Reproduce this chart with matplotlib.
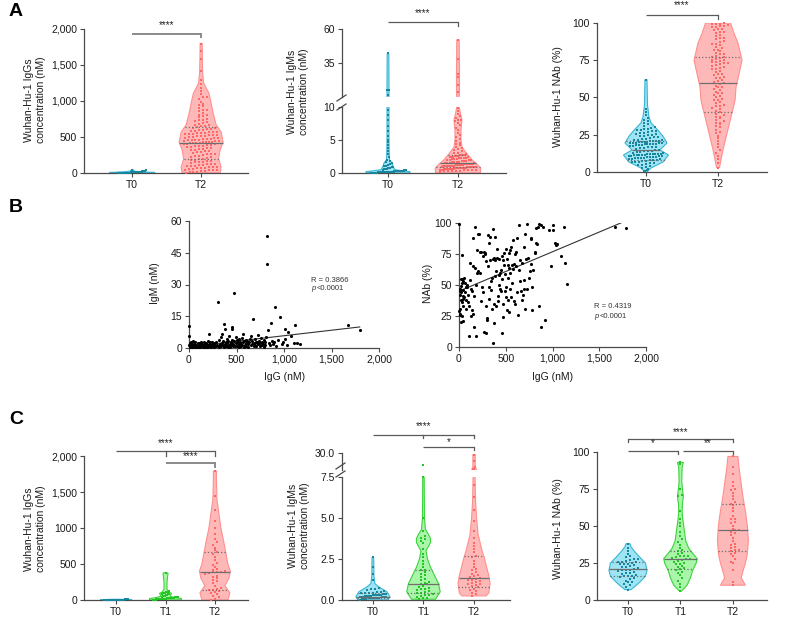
import numpy as np
import matplotlib
matplotlib.use("Agg")
import matplotlib.pyplot as plt

plt.rcParams["font.family"] = ["Liberation Sans", "DejaVu Sans"]

# ------------------------------------------------------------------ DATA
groups2 = ["T0", "T2"]
groups3 = ["T0", "T1", "T2"]

# Panel A : IgG (nM)
a_igg_t0 = [0, 0, 1, 1, 2, 2, 3, 3, 4, 4, 5, 5, 6, 6, 7, 8, 8, 9, 10, 10, 11, 12, 13, 14, 15,
            16, 18, 19, 20, 22, 24, 27, 30, 34, 38, 45, 2, 5, 7, 3]
a_igg_t2 = [3, 9, 14, 22, 27, 35, 41, 48, 53, 61, 66, 72, 77, 83, 88, 95, 101, 109, 116, 124,
            131, 139, 147, 156, 164, 173, 182, 190, 199, 207, 216, 226, 235, 247, 258, 266, 277,
            289, 298, 307, 318, 326, 335, 344, 352, 360, 367, 374, 381, 388, 394, 399, 405, 411,
            416, 421, 426, 431, 436, 442, 447, 452, 458, 463, 469, 475, 481, 487, 494, 500, 507,
            514, 521, 528, 535, 541, 548, 555, 561, 568, 575, 582, 590, 598, 607, 616, 626, 637,
            648, 660, 673, 687, 702, 718, 735, 752, 771, 790, 811, 833, 856, 880, 905, 932, 960,
            991, 1024, 1060, 1098, 1140, 1185, 1232, 1290, 1420, 1580, 1700, 1790,
            12, 44, 70, 98, 120, 152, 178, 230, 262, 300, 340, 372, 403, 418, 428, 440, 455,
            470, 490, 510, 530, 552, 572, 595, 620, 650, 690, 740, 800, 870, 950, 1050]
# Panel A : IgM (nM)
a_igm_t0 = [0.01, 0.02, 0.03, 0.04, 0.05, 0.05, 0.06, 0.07, 0.08, 0.09, 0.1, 0.1, 0.11, 0.12,
            0.12, 0.13, 0.14, 0.15, 0.15, 0.16, 0.17, 0.18, 0.18, 0.19, 0.2, 0.2, 0.21, 0.22,
            0.23, 0.24, 0.25, 0.26, 0.27, 0.28, 0.29, 0.3, 0.31, 0.32, 0.33, 0.35, 0.36, 0.38,
            0.4, 0.02, 0.04, 0.06, 0.08, 0.11, 0.14, 0.17, 0.22, 0.26, 0.3, 0.34, 0.05, 0.09,
            0.13, 0.19, 0.24, 0.45, 0.5, 0.55, 0.6, 0.65, 0.7, 0.75, 0.8, 0.85, 0.9, 1.0, 1.1,
            1.2, 1.3, 1.45, 1.6, 1.75, 2.0, 2.4, 2.9, 3.3, 3.8, 4.3, 4.7, 5.0, 5.6, 6.3, 7.1,
            8.0, 8.8, 9.6, 11.5, 14.8, 15.5, 42.0]
a_igm_t2 = [0.2, 0.25, 0.3, 0.33, 0.36, 0.4, 0.42, 0.45, 0.48, 0.5, 0.52, 0.55, 0.57, 0.6, 0.62,
            0.64, 0.66, 0.68, 0.7, 0.72, 0.74, 0.76, 0.78, 0.8, 0.35, 0.5, 0.6, 0.7, 0.75, 0.65,
            0.82, 0.84, 0.86, 0.88, 0.9, 0.92, 0.94, 0.96, 0.98, 1.0, 1.02, 1.05, 1.08, 1.1,
            1.12, 1.15, 1.18, 1.2, 1.23, 1.26, 1.29, 1.32, 1.35, 1.38, 1.41, 1.44, 1.47, 1.5,
            0.9, 1.0, 1.1, 1.2, 1.3, 1.55, 1.6, 1.65, 1.7, 1.75, 1.8, 1.85, 1.9, 1.95, 2.0, 2.05,
            2.1, 2.2, 2.25, 2.3, 2.4, 2.45, 2.5, 2.55, 2.6, 2.65, 2.7, 2.75, 2.8, 1.7, 1.9, 2.1,
            2.3, 2.5, 2.7, 2.9, 3.0, 3.1, 3.3, 3.5, 3.6, 3.8, 4.0, 4.2, 4.4, 4.6, 4.9, 5.2, 5.5,
            5.8, 6.1, 6.5, 6.8, 7.2, 7.6, 7.9, 8.1, 8.3, 8.6, 9.0, 9.4, 9.8, 8.0,
            13.5, 19.0, 24.5, 27.0, 38.0, 52.0]
# Panel A : NAb (%)
a_nab_t0 = [0.5, 1, 1.5, 2, 3, 3.5, 4, 4.5, 5, 5.5, 6, 6.2, 6.5, 6.8, 7, 7.3, 7.6, 7.8, 8, 8.2,
            8.5, 8.8, 9, 9.2, 9.5, 9.7, 10, 10.2, 10.4, 10.6, 10.8, 11, 11.2, 11.4, 11.6, 11.8,
            12, 12.2, 12.4, 12.6, 12.9, 13.2, 13.5, 13.8, 14.1, 14.4, 14.7, 15, 15.4, 15.8, 16.2,
            16.6, 17, 17.3, 17.6, 17.9, 18.2, 18.5, 18.8, 19, 19.2, 19.4, 19.6, 19.8, 20, 20.2,
            20.5, 20.8, 21, 21.3, 21.6, 22, 22.4, 22.8, 23.2, 23.6, 24, 24.5, 25, 25.5, 26, 26.5,
            27, 27.5, 28, 28.5, 29, 29.5, 30, 31, 32, 33, 34, 35, 36, 38, 40, 42, 62, 9.3, 10.1,
            11.1, 12.1, 18.3, 19.1, 19.7, 20.3, 27.2, 28.8, 10.5, 11.3, 12.3, 17.1, 18.6, 19.3,
            20.6, 21.8, 23.9, 25.8]
a_nab_t2 = [3, 6, 9, 11, 13, 15, 17, 19, 21, 23, 24, 26, 27, 28, 30, 31, 32, 33, 34, 35, 36, 37,
            38, 39, 40, 41, 42, 43, 44, 45, 46, 47, 48, 49, 50, 51, 52, 53, 54, 55, 56, 57, 58,
            59, 60, 60.5, 61, 62, 63, 64, 65, 66, 67, 68, 69, 70, 70.5, 71, 72, 72.5, 73, 73.5,
            74, 74.5, 75, 75.5, 76, 76.5, 77, 77.5, 78, 79, 80, 81, 82, 83, 84, 85, 86, 87, 88,
            89, 90, 91, 92, 93, 94, 95, 96, 97, 97.5, 98, 98.5, 99, 99.5, 100, 99, 98, 96, 94,
            90, 86, 82, 79, 73, 69, 66, 63, 57, 53, 48, 44, 37, 33]

# violin outlines: value levels and half-widths (px)
a_igg_t0_sy = [0, 8, 16, 25, 35, 45]
a_igg_t0_sw = [23, 22, 9, 2.5, 1.2, 0.8]
a_igg_t2_sy = [0, 80, 200, 320, 430, 570, 670, 830, 970, 1110, 1180, 1250, 1400, 1600, 1800]
a_igg_t2_sw = [19, 20, 17.5, 19, 22, 20, 15, 12, 10, 7.7, 5, 2.5, 1.5, 1.2, 1]
a_igm_t0_sy = [0, 0.2, 0.35, 0.5, 0.75, 1.0, 1.5, 2.0, 3, 5, 10, 15, 20, 42]
a_igm_t0_sw = [22, 22, 14, 7, 6, 5, 4, 1.5, 1.2, 1, 1, 1, 1, 0.8]
a_igm_t2_sy = [0, 0.15, 0.76, 1.2, 2.0, 3.2, 3.9, 5, 6.5, 8, 9, 10, 13, 20, 30, 52]
a_igm_t2_sw = [22, 22.5, 22.7, 20, 14, 7.5, 4, 3, 3, 4, 2.5, 1.2, 1.5, 1.5, 1.5, 1.2]
a_nab_t0_sy = [0, 0.7, 2.7, 6.7, 11.4, 14.8, 19.5, 24, 28, 33, 37, 45, 62]
a_nab_t0_sw = [1, 2, 5, 17, 22.5, 14, 21, 17, 12, 5, 3, 1.5, 1]
a_nab_t2_sy = [3, 15, 26, 37, 48, 57, 66, 75, 86.5, 93, 100]
a_nab_t2_sw = [1.5, 5, 9, 13, 17, 18, 21, 24, 20, 16, 12.5]

# median, lower quartile, upper quartile
a_igg_stats = {"T2": (420, 195, 645)}
a_igm_stats = {"T2": (1.5, 0.85, 2.8)}
a_nab_stats = {"T0": (14.8, 8, 21), "T2": (60, 40, 77)}

# Panel B : IgG vs IgM
b1_igg = [0, 0, 5, 8, 10, 12, 15, 18, 20, 25, 28, 30, 35, 38, 40, 45, 50, 55, 60, 65, 70, 75, 80,
          90, 95, 105, 110, 115, 120, 125, 130, 135, 140, 145, 150, 155, 160, 165, 170, 175, 180,
          185, 190, 195, 200, 210, 215, 220, 225, 230, 235, 240, 245, 250, 260, 265, 270, 280,
          285, 295, 305, 310, 315, 320, 325, 330, 335, 340, 345, 350, 355, 360, 365, 372, 375,
          379, 385, 390, 395, 400, 405, 410, 415, 420, 425, 430, 435, 440, 445, 449, 449, 452,
          455, 460, 465, 470, 475, 480, 490, 495, 505, 510, 515, 520, 525, 530, 535, 540, 545,
          550, 555, 560, 568, 570, 575, 580, 590, 595, 600, 605, 610, 620, 625, 630, 640, 650,
          655, 660, 665, 674, 680, 685, 690, 695, 700, 705, 715, 726, 730, 740, 745, 750, 760,
          765, 770, 780, 785, 790, 800, 805, 815, 821, 821, 832, 840, 850, 863, 870, 880, 890,
          909, 920, 940, 961, 975, 990, 1011, 1011, 1030, 1039, 1077, 1105, 1119, 1140, 1168,
          1670, 1797]
b1_igm = [10.5, 5.5, 1.5, 0.5, 2.2, 0.8, 1.2, 0.3, 2.8, 1.0, 0.6, 1.8, 0.4, 3.2, 1.4, 0.9, 2.0,
          0.5, 1.1, 2.6, 0.7, 1.6, 0.3, 2.2, 1.0, 0.6, 2.4, 1.2, 0.4, 3.0, 1.6, 0.8, 2.0, 0.3,
          1.4, 2.7, 0.9, 1.8, 0.5, 2.3, 1.1, 0.7, 1.5, 3.4, 0.6, 6.5, 1.9, 1.0, 2.6, 0.4, 1.3,
          3.0, 0.8, 1.7, 2.2, 0.5, 1.2, 2.9, 0.9, 1.6, 21.5, 1.1, 3.6, 0.6, 2.0, 1.4, 5.2, 0.8,
          2.5, 6.5, 1.2, 3.1, 0.5, 11.2, 1.8, 8.8, 2.7, 0.9, 4.2, 1.5, 2.2, 0.7, 3.4, 1.1, 5.8,
          2.0, 0.6, 3.0, 1.3, 10.0, 8.8, 4.0, 2.4, 0.8, 1.7, 26.2, 3.3, 1.0, 2.2, 5.1, 0.8, 3.8,
          1.4, 2.6, 0.5, 4.3, 1.9, 3.0, 0.9, 2.1, 4.6, 1.3, 6.8, 2.8, 0.7, 3.5, 1.6, 4.0, 2.3,
          1.0, 3.2, 1.8, 0.6, 2.6, 4.1, 1.2, 5.5, 2.0, 3.3, 13.6, 0.9, 2.4, 4.4, 1.5, 3.0, 1.1,
          2.8, 6.0, 1.7, 3.5, 0.8, 2.2, 4.8, 1.4, 3.0, 2.0, 0.7, 3.8, 1.5, 2.9, 5.2, 53.0, 39.5,
          8.4, 2.4, 1.2, 12.0, 3.2, 1.8, 2.6, 19.3, 1.0, 3.6, 14.7, 2.0, 2.8, 9.2, 4.4, 1.2,
          7.6, 5.5, 2.4, 11.0, 2.5, 2.0, 11.0, 8.4]
b1_fit = (0.6, 0.0052)          # intercept, slope
b1_text = ("R = 0.3866", "<0.0001")

# Panel B : IgG vs NAb
b2_igg = [5, 8, 10, 12, 15, 18, 20, 22, 25, 28, 30, 32, 35, 38, 40, 42, 45, 48, 50, 3, 6, 14, 26,
          44, 36, 55, 60, 68, 75, 80, 90, 98, 105, 110, 115, 120, 125, 130, 140, 150, 155, 160,
          165, 170, 175, 180, 185, 190, 195, 145, 100, 85, 135, 198, 70, 205, 215, 220, 225,
          230, 240, 248, 255, 260, 265, 270, 275, 280, 285, 288, 290, 295, 300, 305, 310, 318,
          322, 325, 330, 335, 340, 345, 350, 355, 360, 362, 365, 370, 372, 375, 380, 385, 390,
          395, 398, 405, 410, 415, 420, 425, 430, 435, 440, 445, 450, 455, 460, 465, 470, 475,
          480, 485, 490, 495, 500, 505, 510, 515, 520, 525, 530, 535, 540, 545, 550, 555, 560,
          565, 570, 575, 580, 585, 590, 595, 598, 470, 520, 545, 500, 430, 605, 610, 620, 625,
          630, 640, 645, 650, 655, 660, 670, 675, 680, 690, 700, 705, 710, 720, 725, 730, 740,
          745, 760, 765, 770, 775, 780, 785, 795, 690, 810, 815, 820, 825, 835, 845, 855, 860,
          875, 880, 900, 915, 960, 980, 1000, 1010, 1030, 1040, 1050, 1090, 1120, 1130, 1160,
          1670, 1790]
b2_nab = [99, 47, 42, 27, 31, 55, 20, 38, 44, 52, 25, 36, 74, 41, 21, 46, 53, 33, 40, 29, 26, 45,
          49, 39, 55, 56, 52, 44, 31, 38, 50, 36, 33, 9, 68, 54, 25, 47, 45, 88, 65, 41, 16, 97,
          64, 9, 50, 78, 60, 27, 42, 48, 30, 61, 48, 91, 91, 77, 60, 37, 77, 48, 73, 44, 77, 12,
          75, 76, 33, 11, 69, 23, 22, 65, 90, 39, 84, 48, 89, 70, 46, 53, 56, 31, 71, 3, 95, 19,
          72, 35, 89, 57, 70, 33, 61, 79, 72, 41, 37, 58, 71, 60, 47, 45, 62, 73, 11, 55, 24,
          35, 66, 76, 59, 45, 48, 79, 71, 30, 56, 38, 76, 64, 28, 60, 78, 81, 40, 52, 66, 86,
          63, 37, 67, 35, 75, 70, 66, 47, 40, 50, 65, 77, 44, 88, 26, 98, 62, 70, 53, 45, 68,
          38, 42, 47, 81, 31, 91, 71, 99, 47, 72, 56, 61, 67, 88, 87, 48, 30, 62, 54, 76, 77,
          84, 96, 83, 97, 99, 33, 16, 98, 97, 22, 94, 65, 98, 94, 84, 82, 83, 73, 97, 68, 51,
          97, 96]
b2_fit = (45.0, 0.0318)
b2_text = ("R = 0.4319", "<0.0001")

# Panel C : IgG (nM)
c_igg_t0 = [0, 0, 1, 1, 1, 2, 2, 2, 3, 3, 3, 4, 4, 4, 5, 5, 5, 6, 6, 7, 7, 8, 8, 9, 10, 1, 2, 3,
            4, 5, 6, 2, 3, 1, 0, 4, 7, 2, 3, 5]
c_igg_t1 = [2, 4, 5, 7, 8, 10, 11, 12, 14, 15, 17, 18, 20, 21, 23, 25, 26, 28, 30, 32, 34, 36, 38,
            40, 43, 46, 50, 55, 60, 66, 72, 80, 85, 90, 95, 100, 105, 115, 130, 380, 6, 13, 19,
            27, 35]
c_igg_t2 = [5, 20, 40, 60, 80, 100, 115, 125, 135, 140, 150, 170, 200, 240, 280, 300, 320, 340,
            360, 375, 385, 390, 395, 400, 410, 430, 460, 490, 520, 560, 600, 640, 660, 690, 720,
            760, 800, 850, 920, 1000, 1100, 1250, 1450, 1790, 260]
# Panel C : IgM (nM)
c_igm_t0 = [0.02, 0.05, 0.07, 0.1, 0.1, 0.12, 0.13, 0.15, 0.15, 0.17, 0.18, 0.2, 0.2, 0.21, 0.22,
            0.23, 0.25, 0.25, 0.27, 0.28, 0.3, 0.3, 0.32, 0.33, 0.35, 0.36, 0.38, 0.4, 0.4, 0.42,
            0.45, 0.47, 0.5, 0.55, 0.6, 0.65, 0.7, 0.75, 1.2, 1.6, 2.0, 2.6, 0.08, 0.18, 0.28]
c_igm_t1 = [0.05, 0.1, 0.15, 0.2, 0.25, 0.3, 0.33, 0.38, 0.42, 0.45, 0.5, 0.55, 0.6, 0.65, 0.7,
            0.75, 0.8, 0.88, 0.95, 1.0, 1.05, 1.1, 1.2, 1.3, 1.4, 1.5, 1.6, 1.7, 1.8, 1.85, 2.0,
            2.2, 2.4, 2.6, 2.8, 3.1, 3.5, 3.6, 3.7, 3.8, 3.9, 4.2, 5.0, 7.5, 14.0]
c_igm_t2 = [0.25, 0.35, 0.45, 0.55, 0.62, 0.7, 0.78, 0.85, 0.9, 0.95, 1.0, 1.05, 1.1, 1.15, 1.2,
            1.25, 1.3, 1.35, 1.4, 1.45, 1.5, 1.6, 1.7, 1.8, 1.9, 2.0, 2.2, 2.4, 2.6, 2.7, 2.9,
            3.1, 3.3, 3.5, 3.8, 4.2, 4.8, 5.5, 6.3, 7.0, 9.0, 9.2, 12, 20, 28]
# Panel C : NAb (%)
c_nab_t0 = [7, 9, 10, 11, 12, 12.5, 13, 14, 15, 15.5, 16, 16.5, 17, 17.5, 18, 18.5, 19, 19.5, 20,
            20.5, 21, 21.5, 22, 22.5, 23, 23.5, 24, 24.5, 25, 25.5, 26, 26.5, 27, 27.5, 28, 29,
            30, 31, 33, 35, 38, 16, 20, 24, 26]
c_nab_t1 = [6, 9, 11, 13, 15, 17, 18, 19, 20, 21, 21.5, 22, 23, 24, 25, 26, 26.5, 27, 27.5, 28,
            28.5, 29, 29.5, 30, 31, 32, 33, 34, 35, 37, 39, 41, 43, 46, 50, 52, 55, 60, 70, 71,
            75, 92, 93, 24, 30]
c_nab_t2 = [10, 12, 20, 25, 26, 28, 30, 31, 32, 33, 33.5, 34, 36, 37, 38, 40, 42, 44, 45, 46, 47,
            47.5, 48, 50, 52, 53, 55, 57, 60, 62, 64, 65, 66, 68, 70, 72, 74, 77, 80, 85, 90, 97,
            35, 55, 75]

c_igg_t0_sy = [0, 5, 10];                 c_igg_t0_sw = [16, 15, 3]
c_igg_t1_sy = [0, 20, 35, 50, 70, 90, 100, 115, 150, 250, 370, 380]
c_igg_t1_sw = [16, 16, 9, 5, 5, 6, 5, 3, 1.5, 1.5, 2.5, 1]
c_igg_t2_sy = [0, 100, 200, 300, 400, 500, 650, 800, 1000, 1200, 1400, 1700, 1790]
c_igg_t2_sw = [13, 15, 10, 14, 15.5, 13, 11, 9, 6, 4, 2, 1.5, 1.5]
c_igm_t0_sy = [0, 0.2, 0.5, 0.8, 1.0, 1.5, 2.0, 2.6]
c_igm_t0_sw = [15, 17, 14, 6, 2, 1, 1, 0.8]
c_igm_t1_sy = [0.05, 0.5, 1.0, 1.5, 2.0, 2.5, 3.0, 3.5, 3.75, 4.0, 4.3, 5, 7.5]
c_igm_t1_sw = [12, 16.7, 15, 11, 7, 4, 2.5, 7, 7, 5, 2, 1, 0.7]
c_igm_t2_sy = [0.25, 0.43, 1.0, 1.5, 2.0, 2.5, 3.0, 3.5, 4.0, 5.0, 6.0, 7.5, 9, 9.2, 12, 20, 28]
c_igm_t2_sw = [12, 14.7, 16, 14.7, 12.5, 10.5, 8, 6, 4, 2.5, 1.5, 1, 2.5, 2, 1.2, 1.2, 1.2]
c_nab_t0_sy = [7, 9, 12, 16, 20, 25, 29, 32.7, 36, 38]
c_nab_t0_sw = [3, 6.7, 11.7, 17.5, 19, 17.5, 11.7, 6.7, 3, 2]
c_nab_t1_sy = [6, 10, 15, 20, 25, 28, 32, 35, 40, 45, 50, 55, 60, 65, 70, 75, 80, 90, 93]
c_nab_t1_sw = [1, 6.7, 10, 12.3, 15.8, 16.7, 11.7, 8.3, 5.3, 4.3, 3.3, 2.3, 1.7, 2, 3, 2, 1.3, 1.7, 3]
c_nab_t2_sy = [10, 15, 20, 25, 30, 40, 50, 60, 70, 80, 90, 97]
c_nab_t2_sw = [12.5, 8.3, 10.3, 12.5, 14.2, 15.5, 14.5, 12.5, 10, 8, 6, 5]

c_igg_stats = {"T2": (390, 140, 660)}
c_igm_stats = {"T0": (0.2, 0.1, 0.4), "T1": (0.97, 0.45, 1.8), "T2": (1.36, 0.82, 2.68)}
c_nab_stats = {"T0": (20.7, 16, 26), "T1": (27.7, 21, 33), "T2": (47, 33, 65)}

# ------------------------------------------------------------------ STYLE
COL = {
    "T0": dict(fill="#9fe4f3", edge="#38b4d4", pt="#17869f"),
    "T1": dict(fill="#a9f5a9", edge="#3bd43b", pt="#25c425"),
    "T2": dict(fill="#ffb8b8", edge="#ff8f8f", pt="#ff6666"),
}
AX_COL = "#4a4a4a"
STAT_COL = "#6e6e6e"
ROW_PX = 3.2      # vertical bin height of dot rows
STEP_PX = 4.0     # largest horizontal gap between dots
DOT_S = 2.8

W, H = 787, 620
fig = plt.figure(figsize=(W / 100, H / 100), dpi=100)


def make_ax(l, t, r, b):
    ax = fig.add_axes([l / W, 1 - b / H, (r - l) / W, (b - t) / H])
    ax.patch.set_alpha(0)
    for s in ("top", "right"):
        ax.spines[s].set_visible(False)
    for s in ("left", "bottom"):
        ax.spines[s].set_color(AX_COL)
        ax.spines[s].set_linewidth(0.9)
    ax.tick_params(direction="out", length=3, width=0.8, color=AX_COL,
                   labelsize=7.5, labelcolor="#1a1a1a", pad=2)
    return ax


def ftext(x, y, s, **kw):
    fig.text(x / W, 1 - y / H, s, **kw)


def fline(pts, **kw):
    xs = [p[0] / W for p in pts]
    ys = [1 - p[1] / H for p in pts]
    fig.add_artist(plt.Line2D(xs, ys, transform=fig.transFigure, **kw))


def draw_group(ax, xc, vals, sy, sw, col, xpx, ypx, ylo, yhi, stats=None):
    sy = np.asarray(sy, float)
    hw = np.asarray(sw, float) / xpx
    xs = np.concatenate([xc - hw, (xc + hw)[::-1]])
    ys = np.concatenate([sy, sy[::-1]])
    ax.fill(xs, ys, facecolor=col["fill"], edgecolor=col["edge"], lw=0.8, zorder=2)
    v = np.asarray(vals, float)
    v = v[(v >= ylo) & (v <= yhi * 1.0001)]
    if len(v):
        rowh = ROW_PX / ypx
        rows = np.floor((v - ylo) / rowh).astype(int)
        px, py = [], []
        for k, r in enumerate(np.unique(rows)):
            vv = np.sort(v[rows == r])
            n = len(vv)
            w = max(np.interp(vv.mean(), sy, hw) * 0.8, 0.3 / xpx)
            step = min(STEP_PX / xpx, 2 * w / max(n - 1, 1))
            off = (np.arange(n) - (n - 1) / 2) * step
            if n % 2 == 1 and n > 1 and k % 2 == 1:
                off = off + step / 2 * (1 if off[-1] + step / 2 <= w else 0)
            px.extend(xc + off)
            py.extend(vv)
        ax.scatter(px, py, s=DOT_S, marker="s", color=col["pt"], linewidths=0,
                   zorder=3, clip_on=False)
    if stats is not None:
        for val, ls in zip(stats, ("-", ":", ":")):
            if ylo <= val <= yhi:
                w = np.interp(val, sy, hw)
                ax.plot([xc - w, xc + w], [val, val], color=STAT_COL, lw=0.9, ls=ls,
                        zorder=4, solid_capstyle="butt")


def bracket(ax, x0, x1, yf, ticks, tick_to, text, tyf, color="#5a5a5a", lw=0.9, fs=7):
    tr = ax.get_xaxis_transform()
    ax.plot([x0, x1], [yf, yf], transform=tr, color=color, lw=lw, clip_on=False,
            solid_capstyle="butt")
    for xt in ticks:
        ax.plot([xt, xt], [yf, tick_to], transform=tr, color=color, lw=lw, clip_on=False)
    ax.text((x0 + x1) / 2, tyf, text, transform=tr, ha="center", va="center",
            fontsize=fs, color="#222222")


def cat_axis(ax, labels, xlim):
    ax.set_xlim(*xlim)
    ax.set_xticks(range(len(labels)))
    ax.set_xticklabels(labels, fontsize=7.5)


def ylabel(x, y, s):
    ftext(x, y, s, rotation=90, ha="center", va="center", fontsize=7.5,
          linespacing=1.35, color="#1a1a1a")


# ------------------------------------------------------------------ PANEL A
# A1 IgG
ax = make_ax(84, 29, 248, 173)
ax.set_ylim(0, 2000)
cat_axis(ax, groups2, (-0.70, 1.68))
xpx, ypx = 69.0, 144 / 2000
draw_group(ax, 0, a_igg_t0, a_igg_t0_sy, a_igg_t0_sw, COL["T0"], xpx, ypx, 0, 2000)
draw_group(ax, 1, a_igg_t2, a_igg_t2_sy, a_igg_t2_sw, COL["T2"], xpx, ypx, 0, 2000,
           a_igg_stats["T2"])
ax.set_yticks([0, 500, 1000, 1500, 2000])
ax.set_yticklabels(["0", "500", "1,000", "1,500", "2,000"])
bracket(ax, 0, 1, 0.965, [1], 0.944, "****", 1.03, color="#8a8a8a", lw=1.4)
ylabel(35, 100, "Wuhan-Hu-1 IgGs\nconcentration (nM)")

# A2 IgM (broken axis)
axl = make_ax(342, 107, 506, 173)
axu = make_ax(342, 29, 506, 97)
axl.set_ylim(0, 10)
axu.set_ylim(10, 60)
cat_axis(axl, groups2, (-0.657, 1.686))
axu.set_xlim(-0.657, 1.686)
axu.spines["bottom"].set_visible(False)
axu.set_xticks([])
for a, lo, hi, yp in ((axl, 0, 10, 66 / 10), (axu, 10, 60, 68 / 50)):
    draw_group(a, 0, a_igm_t0, a_igm_t0_sy, a_igm_t0_sw, COL["T0"], 70.0, yp, lo, hi)
    draw_group(a, 1, a_igm_t2, a_igm_t2_sy, a_igm_t2_sw, COL["T2"], 70.0, yp, lo, hi,
               a_igm_stats["T2"])
axl.set_yticks([0, 5, 10])
axu.set_yticks([35, 60])
fline([(337, 101), (346, 95)], color=AX_COL, lw=0.9)
fline([(337, 110), (346, 104)], color=AX_COL, lw=0.9)
bracket(axu, 0, 1, 1.103, [1], 1.044, "****", 1.235)
ylabel(298, 92, "Wuhan-Hu-1 IgMs\nconcentration (nM)")

# A3 NAb
ax = make_ax(597, 23, 767, 172)
ax.set_ylim(0, 100)
cat_axis(ax, groups2, (-0.68, 1.68))
xpx, ypx = 72.0, 149 / 100
draw_group(ax, 0, a_nab_t0, a_nab_t0_sy, a_nab_t0_sw, COL["T0"], xpx, ypx, 0, 100,
           a_nab_stats["T0"])
draw_group(ax, 1, a_nab_t2, a_nab_t2_sy, a_nab_t2_sw, COL["T2"], xpx, ypx, 0, 100,
           a_nab_stats["T2"])
ax.set_yticks([0, 25, 50, 75, 100])
bracket(ax, 0, 1, 1.054, [1], 1.027, "****", 1.121)
ylabel(558, 97, "Wuhan-Hu-1 NAb (%)")

# ------------------------------------------------------------------ PANEL B
xt = [0, 500, 1000, 1500, 2000]
xtl = ["0", "500", "1,000", "1,500", "2,000"]

ax = make_ax(189, 221, 379, 348)
ax.set_xlim(0, 2000)
ax.set_ylim(0, 60)
ax.scatter(b1_igg, b1_igm, s=5, color="black", linewidths=0, zorder=3, clip_on=False)
fx = np.array([0, max(b1_igg)])
ax.plot(fx, b1_fit[0] + b1_fit[1] * fx, color="#333333", lw=0.8, zorder=2)
ax.set_xticks(xt); ax.set_xticklabels(xtl)
ax.set_yticks([0, 15, 30, 45, 60])
ftext(311, 280, b1_text[0], fontsize=5.5, va="center", color="#333333")
ftext(311, 289, "p", fontsize=5.5, va="center", style="italic", color="#333333")
ftext(317, 289, b1_text[1], fontsize=5.5, va="center", color="#333333")
ylabel(155, 283, "IgM (nM)")
ftext(285, 377, "IgG (nM)", ha="center", va="center", fontsize=7.5, color="#1a1a1a")

ax = make_ax(459, 223, 646, 347)
ax.set_xlim(0, 2000)
ax.set_ylim(0, 100)
ax.scatter(b2_igg, b2_nab, s=5, color="black", linewidths=0, zorder=3, clip_on=False)
fx = np.array([0, max(b2_igg)])
ax.plot(fx, b2_fit[0] + b2_fit[1] * fx, color="#333333", lw=0.8, zorder=2)
ax.set_xticks(xt); ax.set_xticklabels(xtl)
ax.set_yticks([0, 25, 50, 75, 100])
ftext(594, 306, b2_text[0], fontsize=5.5, va="center", color="#333333")
ftext(594, 316, "p", fontsize=5.5, va="center", style="italic", color="#333333")
ftext(600, 316, b2_text[1], fontsize=5.5, va="center", color="#333333")
ylabel(428, 283, "NAb (%)")
ftext(553, 377, "IgG (nM)", ha="center", va="center", fontsize=7.5, color="#1a1a1a")

# ------------------------------------------------------------------ PANEL C
# C1 IgG
ax = make_ax(84, 456, 248, 600)
ax.set_ylim(0, 2000)
cat_axis(ax, groups3, (-0.65, 2.67))
xpx, ypx = 49.5, 144 / 2000
for g, vals, sy, sw in (("T0", c_igg_t0, c_igg_t0_sy, c_igg_t0_sw),
                        ("T1", c_igg_t1, c_igg_t1_sy, c_igg_t1_sw),
                        ("T2", c_igg_t2, c_igg_t2_sy, c_igg_t2_sw)):
    draw_group(ax, groups3.index(g), vals, sy, sw, COL[g], xpx, ypx, 0, 2000,
               c_igg_stats.get(g))
ax.set_yticks([0, 500, 1000, 1500, 2000])
ax.set_yticklabels(["0", "500", "1000", "1,500", "2,000"])
bracket(ax, 0, 2, 1.035, [1, 2], 1.0, "****", 1.09)
bracket(ax, 1, 2, 0.951, [2], 0.924, "****", 1.0, color="#8a8a8a", lw=1.4)
ylabel(35, 529, "Wuhan-Hu-1 IgGs\nconcentration (nM)")

# C2 IgM (broken axis)
axl = make_ax(342, 477, 510, 600)
axu = make_ax(342, 453, 510, 470)
axl.set_ylim(0, 7.5)
axu.set_ylim(8, 30)
cat_axis(axl, groups3, (-0.61, 2.71))
axu.set_xlim(-0.61, 2.71)
axu.spines["bottom"].set_visible(False)
axu.set_xticks([])
for a, lo, hi, yp in ((axl, 0, 7.5, 123 / 7.5), (axu, 8, 30, 17 / 22)):
    for g, vals, sy, sw in (("T0", c_igm_t0, c_igm_t0_sy, c_igm_t0_sw),
                            ("T1", c_igm_t1, c_igm_t1_sy, c_igm_t1_sw),
                            ("T2", c_igm_t2, c_igm_t2_sy, c_igm_t2_sw)):
        draw_group(a, groups3.index(g), vals, sy, sw, COL[g], 50.5, yp, lo, hi,
                   c_igm_stats.get(g))
axl.set_yticks([0, 2.5, 5.0, 7.5])
axl.set_yticklabels(["0.0", "2.5", "5.0", "7.5"])
axu.set_yticks([30])
axu.set_yticklabels(["30.0"])
fline([(336, 469), (345, 463)], color=AX_COL, lw=0.9)
fline([(336, 477), (345, 471)], color=AX_COL, lw=0.9)
bracket(axl, 0, 2, 1.341, [1, 2], 1.317, "****", 1.41)
bracket(axl, 1, 2, 1.244, [2], 1.22, "*", 1.285)
ylabel(299, 526, "Wuhan-Hu-1 IgMs\nconcentration (nM)")

# C3 NAb
ax = make_ax(597, 452, 767, 600)
ax.set_ylim(0, 100)
cat_axis(ax, groups3, (-0.59, 2.65))
xpx, ypx = 52.5, 148 / 100
for g, vals, sy, sw in (("T0", c_nab_t0, c_nab_t0_sy, c_nab_t0_sw),
                        ("T1", c_nab_t1, c_nab_t1_sy, c_nab_t1_sw),
                        ("T2", c_nab_t2, c_nab_t2_sy, c_nab_t2_sw)):
    draw_group(ax, groups3.index(g), vals, sy, sw, COL[g], xpx, ypx, 0, 100,
               c_nab_stats.get(g))
ax.set_yticks([0, 25, 50, 75, 100])
bracket(ax, 0, 2, 1.088, [0, 2], 1.068, "****", 1.135)
bracket(ax, 0, 0.95, 1.007, [0.95], 0.985, "*", 1.061)
bracket(ax, 1.05, 2, 1.007, [2], 0.985, "**", 1.061)
ylabel(558, 529, "Wuhan-Hu-1 NAb (%)")

# ------------------------------------------------------------------ panel letters
for letter, x, y in (("A", 16, 12), ("B", 16, 207), ("C", 16, 420)):
    ftext(x, y, letter, fontsize=14, fontweight="bold", ha="center", va="center")

fig.savefig("out.png", dpi=100)
